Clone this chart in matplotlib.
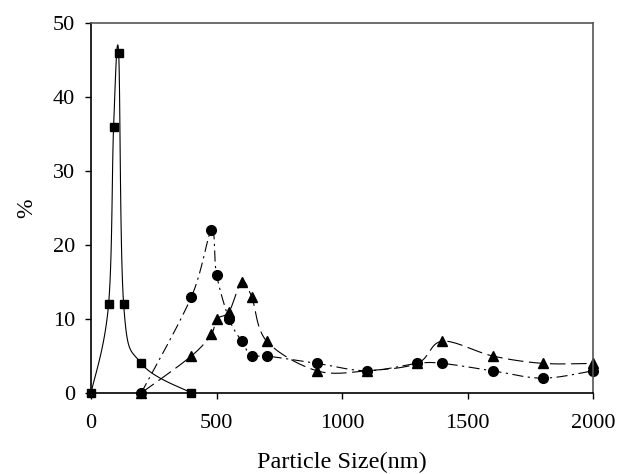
import numpy as np
import matplotlib
matplotlib.use('Agg')
import matplotlib.pyplot as plt

# squares (solid)
sq_x = [0, 70, 90, 110, 130, 200, 400]
sq_y = [0, 12, 36, 46, 12, 4, 0]

# circles (dash-dot)
ci_x = [200, 400, 480, 500, 550, 600, 640, 700, 900, 1100, 1300, 1400, 1600, 1800, 2000]
ci_y = [0, 13, 22, 16, 10, 7, 5, 5, 4, 3, 4, 4, 3, 2, 3]

# triangles (dashed)
tr_x = [200, 400, 480, 500, 550, 600, 640, 700, 900, 1100, 1300, 1400, 1600, 1800, 2000]
tr_y = [0, 5, 8, 10, 11, 15, 13, 7, 3, 3, 4, 7, 5, 4, 4]

x_ticks = [0, 500, 1000, 1500, 2000]
y_ticks = [0, 10, 20, 30, 40, 50]


def smooth(x, y, n=20):
    # Catmull-Rom, like the "smoothed line" option in spreadsheet charts
    p = np.column_stack([x, y]).astype(float)
    p = np.vstack([p[0], p, p[-1]])
    out = []
    t = np.linspace(0, 1, n)[:, None]
    for i in range(1, len(p) - 2):
        p0, p1, p2, p3 = p[i - 1], p[i], p[i + 1], p[i + 2]
        c1 = p1 + (p2 - p0) / 6
        c2 = p2 - (p3 - p1) / 6
        seg = ((1 - t) ** 3) * p1 + 3 * ((1 - t) ** 2) * t * c1 + 3 * (1 - t) * t ** 2 * c2 + t ** 3 * p2
        out.append(seg if i == 1 else seg[1:])
    out = np.vstack(out)
    return out[:, 0], out[:, 1]


plt.rcParams['font.family'] = ['Liberation Serif', 'DejaVu Serif']

fig = plt.figure(figsize=(6.29, 4.74), dpi=100)
ax = fig.add_axes([0.1447, 0.1709, 0.7981, 0.7806])

sx, sy = smooth(sq_x, sq_y)
ax.plot(sx, sy, color='black', lw=0.8)
ax.plot(sq_x, sq_y, 's', color='black', ms=6.3, ls='none')

cx, cy = smooth(ci_x, ci_y)
ax.plot(cx, cy, color='black', lw=0.8, dashes=[10, 4, 2, 4])
ax.plot(ci_x, ci_y, 'o', color='black', ms=7, ls='none')

tx, ty = smooth(tr_x, tr_y)
ax.plot(tx, ty, color='black', lw=0.8, dashes=[14, 5])
ax.plot(tr_x, tr_y, '^', color='black', ms=7, ls='none')

ax.set_xlim(0, 2000)
ax.set_ylim(0, 50)
ax.set_xticks(x_ticks)
ax.set_yticks(y_ticks)
ax.tick_params(direction='out', length=4.5, width=1, labelsize=16)
ax.tick_params(axis='x', pad=10.5)
ax.tick_params(axis='y', pad=7)
for s in ['left', 'bottom']:
    ax.spines[s].set_color('black')
    ax.spines[s].set_linewidth(1.2)
for s in ['top', 'right']:
    ax.spines[s].set_color('#555555')
    ax.spines[s].set_linewidth(1.2)

ax.set_xlabel('Particle Size(nm)', fontsize=17.5, labelpad=13.5)
ax.set_ylabel('%', fontsize=17, labelpad=11)

for l in ax.lines:
    l.set_clip_on(False)

fig.savefig('out.png', dpi=100)
